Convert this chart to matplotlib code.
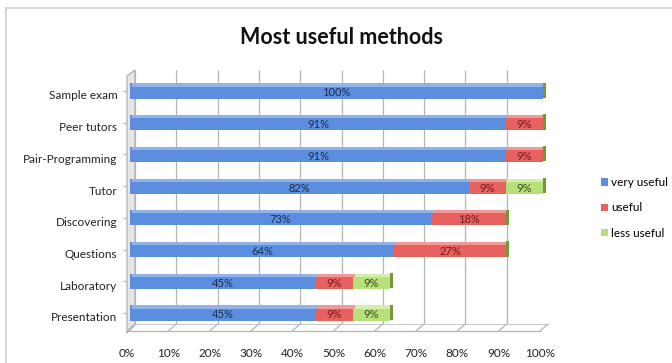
import matplotlib
matplotlib.use("Agg")
import matplotlib.pyplot as plt
from matplotlib.transforms import ScaledTranslation
from matplotlib.patches import Polygon
from matplotlib.lines import Line2D
import numpy as np

plt.rcParams['font.family'] = ['Lato', 'DejaVu Sans']

# data (bottom to top)
methods = ["Presentation", "Laboratory", "Questions", "Discovering",
           "Tutor", "Pair-Programming", "Peer tutors", "Sample exam"]
very_useful = [45, 45, 64, 73, 82, 91, 91, 100]
useful = [9, 9, 27, 18, 9, 9, 9, 0]
less_useful = [9, 9, 0, 0, 9, 0, 0, 0]
series_names = ["very useful", "useful", "less useful"]
colors = ["#5b8ede", "#e8615f", "#b6e07a"]
top_colors = ["#8fb3ea", "#f09a98", "#d4efa8"]
text_colors = ["#1c2b4d", "#6e1b1b", "#3d4a1c"]
xticks = np.arange(0, 101, 10)

W, H = 672, 363
fig = plt.figure(figsize=(W / 100, H / 100), dpi=100)

def fx(x):
    return x / W

def fy(y):
    return 1 - y / H

# chart frame (top and left edge)
fig.add_artist(Line2D([fx(6), 1], [fy(8), fy(8)], color="#cfcfcf", lw=1.2,
                      transform=fig.transFigure))
fig.add_artist(Line2D([fx(6), fx(6)], [fy(8), 0], color="#cfcfcf", lw=1.2,
                      transform=fig.transFigure))

ax = fig.add_axes([fx(127), fy(331), fx(540) - fx(127), fy(70) - fy(331)])
ax.patch.set_visible(False)
ax.set_xlim(0, 100)
ax.set_ylim(-0.568, 7.662)
for s in ax.spines.values():
    s.set_visible(False)

dpi_t = fig.dpi_scale_trans
back = ScaledTranslation(8 / 100, 7 / 100, dpi_t)

# back wall gridlines
ax.vlines(xticks, -0.568 + 7 / 31.7, 7.662, color="#b5b5b5", lw=0.9,
          transform=ax.transData + ScaledTranslation(8 / 100, 0, dpi_t), zorder=0)
# floor: front and back edges + connecting diagonals
ax.plot([0, 100], [-0.568, -0.568], color="#b5b5b5", lw=0.9, clip_on=False, zorder=0)
ax.plot([0, 100], [-0.568, -0.568], color="#c8c8c8", lw=0.7, clip_on=False, zorder=0,
        transform=ax.transData + back)
for x in xticks:
    ax.annotate("", xy=(x, -0.568), xytext=(8, 7), textcoords="offset pixels",
                xycoords="data",
                arrowprops=dict(arrowstyle="-", color="#b5b5b5", lw=0.9,
                                shrinkA=0, shrinkB=0))

# left side wall
wall = Polygon([(fx(127), fy(333)), (fx(135), fy(325)), (fx(135), fy(70)),
                (fx(127), fy(76))], closed=True, transform=fig.transFigure,
               facecolor="#e6e6e6", edgecolor="#a8a8a8", lw=0.8, zorder=0)
fig.add_artist(wall)

y = np.arange(len(methods))
bh = 0.48
shift = ScaledTranslation(3 / 100, 0, dpi_t)
left = np.zeros(len(methods))
for vals, name, c, tc, txc in zip([very_useful, useful, less_useful], series_names,
                                  colors, top_colors, text_colors):
    vals = np.array(vals, dtype=float)
    bars = ax.barh(y, vals, left=left, height=bh, color=c, edgecolor="none",
                   label=name, zorder=3)
    for p in bars:
        p.set_transform(ax.transData + shift)
        p.set_clip_on(False)
    tops = ax.barh(y + bh / 2 - 0.05, vals, left=left, height=0.1, color=tc,
                   edgecolor="none", zorder=4)
    for p in tops:
        p.set_transform(ax.transData + ScaledTranslation(4.5 / 100, 0, dpi_t))
        p.set_clip_on(False)
    for yi, v, l in zip(y, vals, left):
        if v > 0:
            ax.text(l + v / 2, yi - 0.06, "%d%%" % v, ha="center", va="center",
                    fontsize=8, color=txc, zorder=6,
                    transform=ax.transData + shift)
    left = left + vals

# dark green end faces of the stacks
ends = ax.barh(y + 0.02, np.full(len(methods), 0.7), left=left, height=bh,
               color="#6f9a35", edgecolor="none", zorder=5)
for p in ends:
    p.set_transform(ax.transData + shift)
    p.set_clip_on(False)

ax.set_xticks(xticks)
ax.set_xticklabels(["%d%%" % v for v in xticks], fontsize=8.5, color="#222222")
ax.set_yticks(y)
ax.set_yticklabels(methods, fontsize=8.5, color="#222222")
ax.tick_params(axis="x", length=0, pad=12)
ax.tick_params(axis="y", length=3, color="#b5b5b5", pad=4)
for lab in ax.get_yticklabels():
    lab.set_transform(lab.get_transform() + ScaledTranslation(0, -4 / 100, dpi_t))

fig.text(fx(342), fy(38), "Most useful methods", ha="center", va="center",
         fontsize=15.5, fontweight="bold", color="#111111")

handles, labs = ax.get_legend_handles_labels()
fig.legend(handles, labs, loc="center left", bbox_to_anchor=(fx(590), fy(208)),
           frameon=False, fontsize=8.5, handlelength=0.6, handleheight=0.6,
           handletextpad=0.3, labelspacing=1.2)

fig.savefig("out.png", dpi=100, facecolor="white")
